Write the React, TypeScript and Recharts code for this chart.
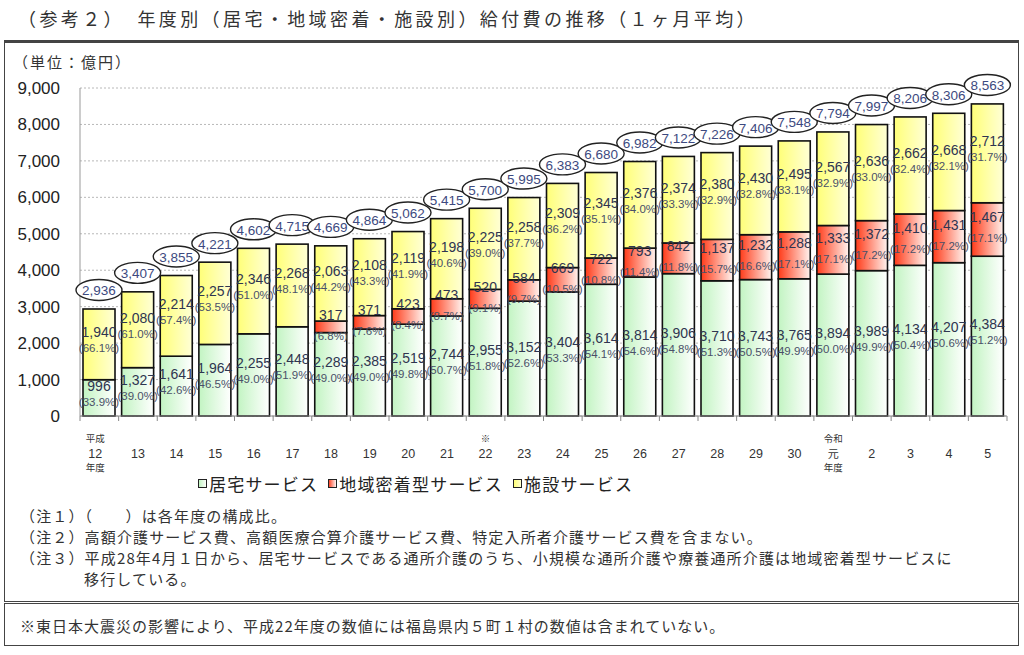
import React from "react";
import { BarChart, Bar, XAxis, YAxis, CartesianGrid, LabelList } from "recharts";

// ── data (億円, monthly average) ──
const years = ["12", "13", "14", "15", "16", "17", "18", "19", "20", "21", "22", "23", "24", "25", "26", "27", "28", "29", "30", "元", "2", "3", "4", "5"];
const home = [996, 1327, 1641, 1964, 2255, 2448, 2289, 2385, 2519, 2744, 2955, 3152, 3404, 3614, 3814, 3906, 3710, 3743, 3765, 3894, 3989, 4134, 4207, 4384];
const community = [null, null, null, null, null, null, 317, 371, 423, 473, 520, 584, 669, 722, 793, 842, 1137, 1232, 1288, 1333, 1372, 1410, 1431, 1467];
const facility = [1940, 2080, 2214, 2257, 2346, 2268, 2063, 2108, 2119, 2198, 2225, 2258, 2309, 2345, 2376, 2374, 2380, 2430, 2495, 2567, 2636, 2662, 2668, 2712];
const totals = [2936, 3407, 3855, 4221, 4602, 4715, 4669, 4864, 5062, 5415, 5700, 5995, 6383, 6680, 6982, 7122, 7226, 7406, 7548, 7794, 7997, 8206, 8306, 8563];
const homePct = [33.9, 39.0, 42.6, 46.5, 49.0, 51.9, 49.0, 49.0, 49.8, 50.7, 51.8, 52.6, 53.3, 54.1, 54.6, 54.8, 51.3, 50.5, 49.9, 50.0, 49.9, 50.4, 50.6, 51.2];
const communityPct = [null, null, null, null, null, null, 6.8, 7.6, 8.4, 8.7, 9.1, 9.7, 10.5, 10.8, 11.4, 11.8, 15.7, 16.6, 17.1, 17.1, 17.2, 17.2, 17.2, 17.1];
const facilityPct = [66.1, 61.0, 57.4, 53.5, 51.0, 48.1, 44.2, 43.3, 41.9, 40.6, 39.0, 37.7, 36.2, 35.1, 34.0, 33.3, 32.9, 32.8, 33.1, 32.9, 33.0, 32.4, 32.1, 31.7];
const yTicks = [0, 1000, 2000, 3000, 4000, 5000, 6000, 7000, 8000, 9000];
const seriesNames = ["居宅サービス", "地域密着型サービス", "施設サービス"];

const data = years.map((y, i) => ({
  year: y,
  home: home[i],
  community: community[i],
  facility: facility[i],
  total: totals[i],
  homePct: homePct[i],
  communityPct: communityPct[i],
  facilityPct: facilityPct[i],
}));

const FONT = '"Liberation Sans", "Noto Sans CJK JP", sans-serif';
const JP = '"Noto Sans CJK JP", sans-serif';
const PLOT_LEFT = 80;
const PLOT_RIGHT = 1007;
const PLOT_BOTTOM = 416;
const STEP = (PLOT_RIGHT - PLOT_LEFT) / years.length;
const TEXT = "#2f3550";

const fmt = (v: number) => v.toLocaleString("en-US");

const makeShape = (gid: string) => (props: any) => {
  const { x, y, width, height } = props;
  if (!height || height <= 0) return null;
  return <rect x={x} y={y} width={width} height={height} fill={`url(#${gid})`} stroke="#111" strokeWidth={1.6} />;
};

const valueLabel = (props: any) => {
  const { x, y, width, height, value } = props;
  if (value == null) return null;
  return (
    <text x={x + width / 2} y={y + height / 2 - 12} textAnchor="middle" dominantBaseline="central" fontSize={14} fill={TEXT} fontFamily={FONT}>
      {fmt(value)}
    </text>
  );
};

const pctLabel = (offset: number) => (props: any) => {
  const { x, y, width, height, value } = props;
  if (value == null) return null;
  return (
    <text x={x + width / 2} y={y + height / 2 + offset} textAnchor="middle" dominantBaseline="central" fontSize={11.5} fill="#4a5068" fontFamily={FONT}>
      ({value.toFixed(1)}%)
    </text>
  );
};

const totalLabel = (props: any) => {
  const { x, y, width, value } = props;
  const cx = x + width / 2;
  const cy = y - 19;
  return (
    <g>
      <ellipse cx={cx} cy={cy} rx={23} ry={10.5} fill="#fff" stroke="#222" strokeWidth={1.4} />
      <text x={cx} y={cy + 1} textAnchor="middle" dominantBaseline="central" fontSize={13.5} fill="#3d4a80" fontFamily={FONT}>
        {fmt(value)}
      </text>
    </g>
  );
};

const YearTick = (props: any) => {
  const { x, payload, index } = props;
  const v = payload.value;
  const small = { fontSize: 9.5, fill: "#333", fontFamily: JP, textAnchor: "middle" as const };
  return (
    <g>
      {index === 0 && <line x1={x - STEP / 2} x2={x - STEP / 2} y1={PLOT_BOTTOM} y2={PLOT_BOTTOM + 5} stroke="#888" />}
      <line x1={x + STEP / 2} x2={x + STEP / 2} y1={PLOT_BOTTOM} y2={PLOT_BOTTOM + 5} stroke="#888" />
      {v === "12" && <text x={x - 4} y={PLOT_BOTTOM + 26} {...small}>平成</text>}
      {v === "12" && <text x={x - 4} y={PLOT_BOTTOM + 55} {...small}>年度</text>}
      {v === "22" && <text x={x} y={PLOT_BOTTOM + 26} {...small}>※</text>}
      {v === "元" && <text x={x} y={PLOT_BOTTOM + 26} {...small}>令和</text>}
      {v === "元" && <text x={x} y={PLOT_BOTTOM + 55} {...small}>年度</text>}
      <text x={v === "12" ? x - 4 : x} y={PLOT_BOTTOM + 42} textAnchor="middle" fontSize={v === "元" ? 11 : 12.5} fill="#333" fontFamily={v === "元" ? JP : FONT}>
        {v}
      </text>
    </g>
  );
};

const swatchColors = [
  ["#bdf3bd", "#ffffff"],
  ["#ff3a1a", "#ffffff"],
  ["#ffff70", "#ffffd8"],
];

export default function App() {
  return (
    <div style={{ position: "absolute", left: 0, top: 0, width: 1024, height: 655, background: "#fff", fontFamily: JP, color: "#333" }}>
      {/* title */}
      <div style={{ position: "absolute", left: 18, top: 5, fontSize: 18, letterSpacing: 3.4, whiteSpace: "nowrap" }}>
        （参考２）　年度別（居宅・地域密着・施設別）給付費の推移（１ヶ月平均）
      </div>

      {/* boxes */}
      <div style={{ position: "absolute", left: 4, top: 40, width: 1013, height: 558, border: "1.5px solid #444", borderTopWidth: 3 }} />
      <div style={{ position: "absolute", left: 4, top: 603, width: 1013, height: 41, border: "1.5px solid #444" }} />

      <div style={{ position: "absolute", left: 13, top: 51, fontSize: 15, letterSpacing: 2, whiteSpace: "nowrap" }}>（単位：億円）</div>

      <div style={{ position: "absolute", left: 0, top: 0 }}>
        <BarChart width={1024} height={480} data={data} margin={{ top: 88, right: 17, bottom: 4, left: 0 }} barSize={32}>
          <defs>
            <linearGradient id="g-home" x1="0" y1="0" x2="1" y2="0">
              <stop offset="0" stopColor="#c2f4c2" />
              <stop offset="1" stopColor="#ffffff" />
            </linearGradient>
            <linearGradient id="g-comm" x1="0" y1="0" x2="1" y2="0">
              <stop offset="0" stopColor="#ff3a18" />
              <stop offset="1" stopColor="#fff4f0" />
            </linearGradient>
            <linearGradient id="g-fac" x1="0" y1="0" x2="1" y2="0">
              <stop offset="0" stopColor="#ffff78" />
              <stop offset="1" stopColor="#ffffd6" />
            </linearGradient>
          </defs>
          <CartesianGrid vertical={false} stroke="#b8b8b8" strokeDasharray="2 2" />
          <XAxis dataKey="year" height={60} interval={0} axisLine={{ stroke: "#888" }} tickLine={false} tick={<YearTick />} />
          <YAxis
            width={80}
            domain={[0, 9000]}
            ticks={yTicks}
            tickFormatter={(v: number) => fmt(v)}
            axisLine={{ stroke: "#999" }}
            tickLine={false}
            tickMargin={14}
            tick={{ fontSize: 17, fill: "#222", fontFamily: FONT }}
          />
          <Bar dataKey="home" name={seriesNames[0]} stackId="a" shape={makeShape("g-home")} isAnimationActive={false}>
            <LabelList dataKey="home" content={valueLabel} />
            <LabelList dataKey="homePct" content={pctLabel(4)} />
          </Bar>
          <Bar dataKey="community" name={seriesNames[1]} stackId="a" shape={makeShape("g-comm")} isAnimationActive={false}>
            <LabelList dataKey="community" content={valueLabel} />
            <LabelList dataKey="communityPct" content={pctLabel(9)} />
          </Bar>
          <Bar dataKey="facility" name={seriesNames[2]} stackId="a" shape={makeShape("g-fac")} isAnimationActive={false}>
            <LabelList dataKey="facility" content={valueLabel} />
            <LabelList dataKey="facilityPct" content={pctLabel(4)} />
            <LabelList dataKey="total" content={totalLabel} />
          </Bar>
        </BarChart>
      </div>

      {/* legend */}
      <div style={{ position: "absolute", left: 198, top: 471, display: "flex", alignItems: "center", fontSize: 17, letterSpacing: 1.2, color: "#222", whiteSpace: "nowrap" }}>
        {seriesNames.map((n, i) => (
          <div key={n} style={{ display: "flex", alignItems: "center", marginRight: 10 }}>
            <svg width={9} height={9} style={{ marginRight: 2 }}>
              <defs>
                <linearGradient id={`lg-${i}`} x1="0" y1="0" x2="1" y2="0">
                  <stop offset="0" stopColor={swatchColors[i][0]} />
                  <stop offset="1" stopColor={swatchColors[i][1]} />
                </linearGradient>
              </defs>
              <rect x={0.5} y={0.5} width={8} height={8} fill={`url(#lg-${i})`} stroke="#222" />
            </svg>
            <span>{n}</span>
          </div>
        ))}
      </div>

      {/* notes */}
      <div style={{ position: "absolute", left: 20, top: 505, fontSize: 15, letterSpacing: 1.15, lineHeight: "21px", whiteSpace: "nowrap" }}>
        <div>（注１）（　　）は各年度の構成比。</div>
        <div>（注２）高額介護サービス費、高額医療合算介護サービス費、特定入所者介護サービス費を含まない。</div>
        <div>（注３）平成28年4月１日から、居宅サービスである通所介護のうち、小規模な通所介護や療養通所介護は地域密着型サービスに</div>
        <div style={{ paddingLeft: 64 }}>移行している。</div>
      </div>
      <div style={{ position: "absolute", left: 20, top: 615, fontSize: 15, letterSpacing: 1.0, whiteSpace: "nowrap" }}>
        ※東日本大震災の影響により、平成22年度の数値には福島県内５町１村の数値は含まれていない。
      </div>
    </div>
  );
}
